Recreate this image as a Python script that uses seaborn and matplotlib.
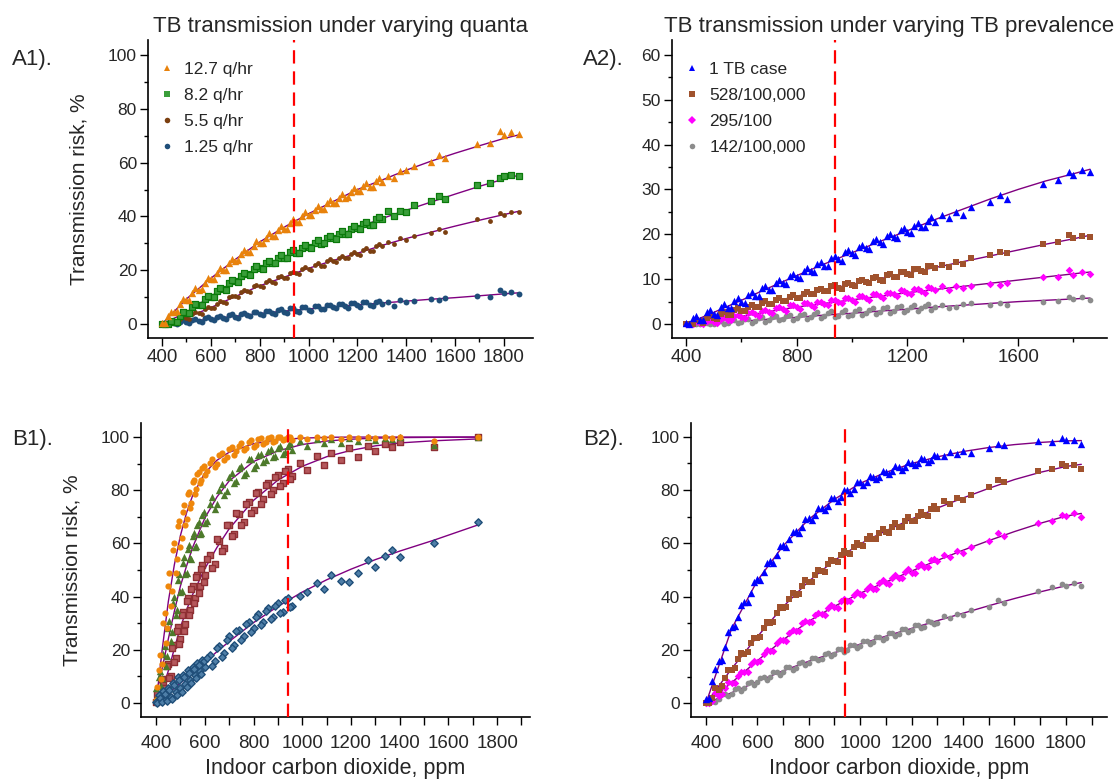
import matplotlib
matplotlib.use("Agg")
import matplotlib.pyplot as plt
import seaborn as sns
from matplotlib import font_manager
from matplotlib.ticker import MultipleLocator, FixedLocator
from matplotlib.lines import Line2D

# ==========================================
# Estilo
# ==========================================
sns.set_theme(style="ticks")
plt.rcParams["font.family"] = ["Liberation Sans", "DejaVu Sans"]

names = {f.name for f in font_manager.fontManager.ttflist}
if "Liberation Sans Narrow" in names:
    narrow, xtick_size, xlabel_size = "Liberation Sans Narrow", 15.5, 18.5
else:
    narrow, xtick_size, xlabel_size = "Liberation Sans", 13.5, 15.5

# ==========================================
# Datos
# ==========================================
# eje x compartido por A1, A2 y B2 (ppm)
co2_a = [400, 425, 450, 475, 500, 525, 550, 575, 600, 625,
         650, 675, 700, 725, 750, 775, 800, 825, 850, 875,
         900, 925, 950, 975, 1000, 1025, 1050, 1075, 1100, 1125,
         1150, 1175, 1200, 1225, 1250, 1275, 1300, 1325, 1350, 1375,
         1400, 1430, 1500, 1535, 1560, 1690, 1745, 1785, 1800, 1830,
         1860]
# puntos intermedios de la zona densa
co2_a_fill = [412, 437, 462, 487, 512, 537, 562, 587, 612, 637,
              662, 687, 712, 737, 762, 787, 812, 837, 862, 887,
              912, 937, 962, 987, 1012, 1037, 1062, 1087, 1112, 1137,
              1162, 1187, 1212, 1237, 1262, 1287]

# A1: cuantos variables
a1_q127 = [0.4, 2.9, 4.3, 7.4, 8.9, 11.6, 12.8, 15.4, 16.6, 19.1,
           20.1, 22.6, 23.5, 25.9, 26.8, 29.1, 30.0, 32.1, 32.9, 35.0,
           35.5, 37.6, 38.1, 40.2, 40.6, 42.3, 42.8, 44.9, 45.0, 47.0,
           46.9, 49.2, 49.4, 51.3, 50.9, 53.0, 52.8, 54.9, 54.2, 56.8,
           57.1, 58.9, 60.2, 62.8, 61.9, 66.9, 67.2, 71.6, 70.2, 71.4,
           70.6]
a1_q127_fill = [0.2, 4.4, 4.8, 9.2, 9.1, 13.3, 13.0, 17.2, 16.7, 20.8,
                20.2, 24.3, 23.7, 27.6, 26.9, 30.9, 30.1, 33.7, 32.8, 36.5,
                35.5, 39.0, 38.0, 41.5, 40.4, 43.9, 42.7, 46.1, 44.9, 48.4,
                47.2, 50.6, 49.3, 52.5, 51.1, 54.2]
a1_q82 = [0.0, 0.1, 0.9, 2.8, 4.2, 6.3, 7.2, 9.4, 10.1, 12.2,
          13.1, 15.4, 16.0, 17.9, 18.6, 20.6, 21.0, 22.6, 22.8, 24.6,
          24.7, 26.6, 26.5, 28.4, 28.6, 30.1, 29.9, 31.9, 32.0, 33.6,
          33.5, 35.4, 35.6, 37.1, 37.0, 39.0, 38.9, 41.9, 40.1, 42.0,
          41.6, 44.3, 45.6, 47.7, 46.5, 51.6, 52.6, 54.3, 55.1, 55.4,
          55.0]
a1_q82_fill = [0.0, 1.1, 0.8, 4.6, 4.1, 7.5, 7.1, 10.5, 10.0, 13.4,
               12.8, 16.3, 15.6, 18.9, 18.1, 21.4, 20.5, 23.5, 22.5, 25.5,
               24.5, 27.4, 26.4, 29.3, 28.2, 31.1, 30.0, 32.8, 31.7, 34.6,
               33.5, 36.3, 35.2, 38.1, 36.9, 39.8]
a1_q55 = [0.0, 0.0, 0.4, 1.8, 2.3, 3.6, 4.0, 5.6, 6.0, 7.6,
          8.1, 9.9, 10.3, 11.8, 12.1, 14.0, 14.2, 15.5, 15.7, 17.3,
          17.2, 18.9, 18.8, 20.6, 20.5, 21.8, 21.7, 23.4, 23.4, 24.6,
          24.4, 26.2, 26.1, 27.5, 27.2, 29.0, 29.1, 30.6, 29.8, 31.9,
          31.2, 32.8, 34.0, 35.2, 34.3, 38.9, 38.2, 41.2, 40.4, 41.6,
          41.7]
a1_q55_fill = [0.0, 0.9, 0.3, 2.8, 2.0, 4.5, 3.9, 6.4, 5.8, 8.4,
               7.8, 10.5, 9.9, 12.5, 11.9, 14.5, 13.8, 16.2, 15.4, 17.8,
               17.0, 19.4, 18.6, 21.1, 20.2, 22.6, 21.7, 24.0, 23.1, 25.4,
               24.5, 26.8, 25.8, 28.2, 27.3, 29.6]
a1_q125 = [0.0, 0.0, 0.3, 0.9, 0.6, 1.4, 1.1, 2.2, 1.7, 2.6,
           2.2, 3.2, 2.7, 3.8, 3.2, 4.4, 3.6, 4.9, 4.1, 5.3,
           4.6, 5.9, 5.0, 6.3, 5.3, 6.8, 5.7, 7.1, 6.2, 7.4,
           6.6, 7.8, 6.9, 8.0, 7.2, 8.3, 7.4, 8.1, 6.8, 8.9,
           8.3, 8.6, 9.2, 8.9, 9.8, 10.3, 9.9, 12.8, 11.6, 11.9,
           11.0]
a1_q125_fill = [0.0, 0.9, 0.1, 1.4, 0.4, 1.9, 0.9, 2.6, 1.4, 3.1,
                1.9, 3.6, 2.3, 4.1, 2.8, 4.6, 3.3, 5.0, 3.8, 5.5,
                4.2, 5.9, 4.6, 6.3, 5.0, 6.7, 5.4, 7.1, 5.8, 7.5,
                6.1, 7.8, 6.5, 8.2, 6.8, 8.5]

# A2: prevalencia variable
a2_case = [0.2, 1.4, 1.0, 2.6, 2.3, 3.7, 3.6, 5.2, 5.0, 6.4,
           6.3, 8.0, 7.7, 9.2, 9.1, 10.7, 10.5, 11.9, 11.8, 13.4,
           13.0, 14.8, 14.5, 16.1, 15.8, 17.2, 17.0, 18.5, 18.2, 19.6,
           19.3, 20.9, 20.5, 21.8, 21.6, 23.0, 22.7, 24.4, 23.6, 24.9,
           24.3, 26.1, 27.2, 28.7, 27.8, 31.3, 32.1, 33.9, 33.2, 34.3,
           34.0]
a2_case_fill = [0.0, 1.8, 0.8, 3.1, 2.1, 4.4, 3.5, 5.7, 4.8, 7.1,
                6.2, 8.5, 7.6, 9.9, 9.0, 11.2, 10.3, 12.6, 11.6, 13.9,
                12.9, 15.1, 14.1, 16.4, 15.4, 17.6, 16.7, 18.9, 17.9, 20.1,
                19.1, 21.3, 20.3, 22.5, 21.6, 23.8]
a2_p528 = [0.0, 0.1, 0.6, 1.4, 1.3, 2.2, 2.1, 3.1, 3.0, 3.8,
           3.7, 4.6, 4.4, 5.3, 5.1, 6.1, 5.8, 6.8, 6.6, 7.6,
           7.3, 8.4, 8.0, 9.0, 8.6, 9.6, 9.3, 10.3, 9.9, 10.9,
           10.5, 11.6, 11.2, 12.2, 11.8, 12.9, 12.4, 13.1, 12.8, 13.9,
           13.4, 14.7, 15.3, 16.1, 15.8, 17.9, 18.4, 19.9, 19.2, 19.7,
           19.5]
a2_p528_fill = [0.0, 0.8, 0.3, 1.7, 1.1, 2.6, 2.0, 3.5, 2.9, 4.3,
                3.7, 5.1, 4.5, 5.8, 5.2, 6.5, 5.9, 7.2, 6.6, 7.9,
                7.3, 8.6, 7.9, 9.2, 8.5, 9.8, 9.1, 10.4, 9.7, 11.1,
                10.4, 11.7, 11.0, 12.3, 11.6, 12.9]
a2_p295 = [0.0, 0.0, 0.2, 0.7, 0.5, 1.2, 1.0, 1.8, 1.6, 2.4,
           2.2, 3.0, 2.8, 3.6, 3.3, 4.2, 3.8, 4.6, 4.2, 5.0,
           4.5, 5.4, 4.9, 5.8, 5.3, 6.2, 5.8, 6.7, 6.2, 7.0,
           6.6, 7.5, 7.0, 7.8, 7.3, 8.2, 7.6, 8.4, 7.7, 8.5,
           8.0, 8.4, 9.0, 8.6, 9.1, 10.4, 10.4, 12.0, 11.0, 11.6,
           11.2]
a2_p295_fill = [0.0, 0.6, 0.0, 1.0, 0.3, 1.5, 0.8, 2.1, 1.3, 2.6,
                1.9, 3.2, 2.4, 3.7, 2.9, 4.2, 3.4, 4.6, 3.8, 5.0,
                4.2, 5.4, 4.6, 5.8, 5.0, 6.2, 5.4, 6.6, 5.8, 7.0,
                6.2, 7.4, 6.6, 7.8, 6.9, 8.1]
a2_p142 = [0.0, 0.0, 0.0, 0.3, 0.1, 0.6, 0.3, 0.9, 0.5, 1.2,
           0.7, 1.5, 0.9, 1.8, 1.2, 2.0, 1.3, 2.3, 1.5, 2.6,
           1.7, 2.9, 1.9, 3.1, 2.1, 3.3, 2.5, 3.6, 2.7, 3.8,
           3.0, 4.0, 3.2, 4.3, 3.5, 4.5, 3.7, 4.3, 3.6, 3.9,
           4.5, 4.7, 4.3, 4.6, 4.3, 5.0, 5.2, 6.1, 5.5, 6.1,
           5.4]
a2_p142_fill = [0.0, 0.0, 0.5, 0.0, 0.7, 0.0, 1.0, 0.2, 1.2, 0.3,
                1.4, 0.5, 1.6, 0.8, 1.9, 1.0, 2.1, 1.2, 2.3, 1.4,
                2.5, 1.6, 2.8, 1.8, 3.0, 2.0, 3.2, 2.3, 3.5, 2.5,
                3.7, 2.7, 3.9, 2.9, 4.1, 3.1]

# B2: prevalencia variable (escenario B)
b2_case = [1.5, 8.5, 15.8, 21.0, 28.6, 32.4, 38.0, 41.3, 46.5, 49.2,
           53.4, 55.6, 59.5, 61.8, 64.8, 66.3, 69.4, 70.6, 73.2, 74.1,
           76.8, 77.2, 80.0, 80.3, 82.8, 83.1, 85.0, 85.0, 86.9, 87.1,
           88.6, 88.7, 90.2, 90.1, 91.5, 91.3, 92.8, 92.6, 94.2, 93.4,
           94.6, 94.0, 95.6, 97.4, 96.8, 98.4, 97.9, 99.4, 98.6, 98.9,
           97.4]
b2_case_fill = [2.0, 12.8, 16.4, 26.8, 29.0, 36.7, 38.0, 45.6, 46.3, 52.6,
                52.8, 58.9, 58.8, 64.1, 63.9, 69.0, 68.6, 73.1, 72.4, 76.9,
                76.0, 80.0, 79.0, 82.9, 81.8, 85.2, 84.0, 87.2, 86.0, 88.9,
                87.6, 90.5, 89.3, 91.8, 90.5, 93.0]
b2_p528 = [0.3, 2.1, 5.0, 9.6, 12.4, 16.8, 18.7, 22.6, 24.5, 28.3,
           30.0, 33.9, 35.8, 39.0, 40.6, 43.9, 45.4, 48.3, 49.6, 52.4,
           53.3, 55.8, 56.2, 58.8, 59.4, 61.5, 61.8, 64.0, 64.2, 66.2,
           66.3, 68.5, 68.5, 70.4, 70.5, 72.8, 72.9, 75.9, 74.6, 76.8,
           76.1, 78.2, 81.0, 83.8, 83.0, 87.0, 87.8, 89.6, 88.9, 89.5,
           88.0]
b2_p528_fill = [0.0, 5.8, 6.6, 12.6, 13.1, 18.8, 19.2, 24.7, 25.0, 30.4,
                30.6, 36.0, 36.1, 41.2, 41.1, 46.2, 45.5, 50.0, 49.3, 53.9,
                53.0, 57.1, 56.1, 60.2, 59.1, 62.9, 61.5, 65.4, 63.9, 67.6,
                66.1, 69.8, 68.3, 71.9, 70.3, 74.0]
b2_p295 = [0.0, 1.0, 2.8, 5.6, 7.5, 10.4, 11.6, 14.6, 15.7, 18.7,
           19.8, 22.8, 23.6, 26.4, 27.2, 30.1, 30.6, 33.1, 33.4, 35.8,
           36.0, 38.4, 38.3, 40.7, 41.0, 42.9, 42.8, 45.2, 45.0, 47.0,
           46.9, 49.3, 49.0, 51.4, 51.2, 53.8, 53.4, 55.8, 55.0, 57.0,
           56.4, 58.8, 61.0, 63.8, 62.8, 67.6, 68.3, 70.8, 70.2, 71.4,
           70.0]
b2_p295_fill = [0.0, 4.0, 3.7, 7.9, 7.7, 11.9, 11.8, 16.0, 15.8, 20.0,
                19.7, 23.9, 23.5, 27.5, 27.0, 31.0, 30.4, 34.0, 33.2, 36.8,
                35.9, 39.3, 38.3, 41.8, 40.7, 44.0, 42.8, 46.1, 44.9, 48.1,
                46.9, 50.2, 49.0, 52.2, 51.0, 54.2]
b2_p142 = [0.0, 0.8, 1.6, 3.5, 3.6, 5.8, 5.7, 8.0, 7.9, 9.9,
           9.8, 11.9, 11.8, 13.8, 13.4, 15.5, 15.2, 17.0, 16.7, 18.8,
           18.4, 20.4, 19.9, 21.9, 21.6, 23.4, 23.0, 24.8, 24.6, 26.3,
           25.9, 27.8, 27.4, 29.2, 28.6, 30.6, 30.1, 32.6, 32.0, 33.5,
           33.1, 34.9, 36.1, 38.8, 37.8, 42.0, 43.7, 44.9, 44.1, 45.2,
           44.0]
b2_p142_fill = [0.0, 0.6, 3.4, 2.6, 5.4, 4.7, 7.5, 6.8, 9.6, 8.8,
                11.6, 10.8, 13.5, 12.6, 15.3, 14.4, 17.1, 16.1, 18.7, 17.7,
                20.3, 19.3, 21.9, 20.9, 23.5, 22.4, 25.0, 23.9, 26.4, 25.4,
                27.9, 26.8, 29.3, 28.3, 30.8, 29.7]

# B1: eje x propio
co2_b1 = [400, 410, 420, 430, 440, 450, 460, 470, 480, 490,
          500, 510, 520, 530, 540, 550, 560, 570, 580, 590,
          600, 620, 640, 660, 680, 700, 720, 740, 760, 780,
          800, 820, 840, 860, 880, 900, 920, 940, 960, 990,
          1020, 1060, 1090, 1120, 1160, 1190, 1230, 1270, 1300, 1340,
          1370, 1400, 1540, 1720]
co2_b1_fill = [405, 415, 425, 435, 445, 455, 465, 475, 485, 495,
               505, 515, 525, 535, 545, 555, 565, 575, 585, 595,
               610, 630, 650, 670, 690, 710, 730, 750, 770, 790,
               810, 830, 850, 870, 890, 910, 930, 950]
b1_orange = [1.0, 12.5, 9.0, 30.0, 22.4, 44.0, 36.5, 57.5, 49.0, 66.5,
             58.8, 72.0, 67.0, 78.4, 73.5, 83.0, 78.5, 86.2, 82.9, 88.5,
             85.6, 90.3, 88.7, 93.2, 91.4, 95.6, 93.4, 96.8, 95.2, 98.0,
             96.4, 99.2, 97.5, 99.5, 98.2, 100.0, 98.8, 99.9, 98.9, 100.0,
             99.4, 100.0, 99.6, 100.0, 99.2, 100.0, 99.6, 100.0, 99.5, 100.0,
             99.8, 100.0, 98.5, 100.0]
b1_orange_fill = [6.0, 18.0, 14.5, 34.0, 28.0, 49.0, 42.0, 60.0, 54.0, 68.5,
                  62.0, 74.5, 69.0, 79.5, 75.2, 84.0, 80.4, 86.8, 84.0, 89.2,
                  87.4, 91.6, 89.8, 94.0, 92.5, 96.4, 94.6, 97.8, 96.0, 98.9,
                  97.0, 99.6, 98.0, 100.0, 98.6, 100.0, 99.1, 100.0]
b1_green = [5.5, 9.8, 6.2, 18.5, 14.0, 28.0, 23.4, 37.6, 33.0, 46.2,
            41.8, 52.5, 48.6, 58.0, 54.6, 62.8, 58.6, 67.0, 63.4, 70.8,
            67.5, 74.8, 73.0, 80.2, 78.3, 85.0, 82.6, 88.5, 85.9, 91.6,
            88.4, 93.2, 90.8, 94.8, 92.6, 96.0, 93.8, 96.5, 95.0, 98.4,
            96.7, 99.1, 97.6, 99.4, 97.9, 99.8, 98.6, 100.0, 98.9, 99.7,
            99.2, 100.0, 97.2, 100.0]
b1_green_fill = [2.5, 12.0, 9.5, 21.5, 17.5, 31.0, 26.5, 40.0, 35.0, 48.5,
                 42.0, 54.8, 49.0, 59.5, 54.0, 64.0, 59.0, 68.2, 63.8, 72.0,
                 68.6, 77.4, 74.8, 82.2, 79.8, 86.4, 83.6, 89.0, 86.6, 91.9,
                 89.4, 93.6, 91.2, 95.4, 93.0, 96.6, 94.4, 97.6]
b1_red = [0.5, 2.8, 1.2, 7.8, 4.5, 14.6, 10.2, 21.8, 16.9, 28.6,
          24.0, 34.2, 29.5, 39.5, 34.8, 44.0, 39.6, 48.2, 43.8, 51.8,
          48.0, 55.6, 52.4, 61.0, 58.2, 66.8, 63.4, 71.0, 67.9, 75.6,
          72.4, 79.4, 76.6, 82.6, 80.2, 85.8, 82.8, 88.0, 85.4, 90.4,
          87.6, 92.8, 89.6, 94.0, 91.2, 95.8, 92.5, 96.8, 94.6, 97.5,
          96.4, 98.0, 96.2, 100.0]
b1_red_fill = [3.5, 1.0, 9.0, 5.5, 14.0, 9.5, 20.5, 15.5, 27.0, 22.0,
               33.0, 27.0, 38.5, 33.0, 43.0, 37.5, 47.5, 41.5, 50.5, 45.5,
               54.0, 50.6, 61.5, 57.0, 67.0, 62.8, 71.6, 67.0, 75.0, 71.4,
               78.8, 75.0, 82.0, 78.6, 85.0, 81.6, 87.4, 84.2]
b1_blue = [0.5, 3.0, 0.8, 4.6, 1.5, 5.8, 2.4, 7.6, 4.0, 9.8,
           5.6, 10.6, 7.2, 12.4, 8.8, 13.6, 10.4, 15.0, 12.0, 16.2,
           13.4, 18.0, 15.6, 21.4, 18.8, 25.0, 21.8, 27.6, 25.0, 30.6,
           28.0, 33.4, 30.6, 35.6, 32.4, 37.4, 34.2, 39.6, 36.4, 40.4,
           41.6, 45.2, 43.0, 48.2, 46.0, 45.6, 48.8, 53.8, 51.0, 55.4,
           57.6, 55.0, 60.0, 68.0]
b1_blue_fill = [0.0, 1.8, 0.4, 3.5, 0.9, 5.0, 1.6, 6.6, 2.8, 8.6,
                4.2, 9.8, 6.0, 11.4, 7.6, 12.8, 9.2, 14.2, 11.0, 15.6,
                17.0, 14.0, 20.8, 17.4, 23.8, 20.6, 27.0, 23.6, 29.6, 26.6,
                32.2, 29.4, 34.6, 31.6, 36.6, 34.0, 38.6, 36.2]

# curvas de ajuste
fit_x = [400, 500, 600, 700, 800, 900, 1000, 1100, 1200, 1300, 1400, 1500, 1600, 1700, 1800, 1860]
fit_a1 = [
    [0, 9.3, 17, 24, 30.5, 36, 41, 45.5, 50, 53.5, 57.2, 60.5, 63.5, 66.3, 69, 70.3],
    [0, 4.3, 10.3, 16, 21, 25, 28.8, 32.3, 35.8, 39.2, 42.3, 45.3, 48.3, 51.2, 53.9, 55.3],
    [0, 2.3, 6.1, 10.2, 14.2, 17.4, 20.7, 23.6, 26.3, 29.2, 31.8, 34.1, 36.4, 38.6, 40.7, 41.9],
    [0, 0.8, 1.9, 2.9, 3.9, 4.8, 5.6, 6.4, 7.1, 7.8, 8.5, 9.2, 9.8, 10.5, 11.2, 11.6],
]
fit_a2 = [
    [0, 2.6, 5.3, 8.1, 10.8, 13.4, 15.9, 18.4, 20.8, 23.3, 25.6, 27.9, 30.0, 31.9, 33.5, 34.5],
    [0, 1.4, 3.2, 4.8, 6.2, 7.6, 8.9, 10.1, 11.4, 12.6, 13.9, 15.2, 16.5, 17.8, 19.0, 19.8],
    [0, 0.6, 1.7, 2.8, 3.8, 4.6, 5.4, 6.2, 7.0, 7.7, 8.4, 9.1, 9.8, 10.5, 11.2, 11.6],
    [0, 0.2, 0.6, 1.1, 1.5, 2.0, 2.4, 2.9, 3.3, 3.8, 4.2, 4.6, 5.0, 5.3, 5.6, 5.8],
]
fit_b2 = [
    [0, 28, 46, 59, 69, 76.5, 82.5, 86.6, 89.9, 92.4, 94.4, 95.9, 97.0, 97.8, 98.4, 98.5],
    [0, 13, 25, 36.2, 45.8, 53.6, 59.8, 64.7, 69.1, 73.2, 77.0, 80.6, 83.9, 86.6, 88.8, 89.6],
    [0, 7.8, 16, 23.8, 30.8, 36.4, 41.3, 45.5, 49.6, 53.6, 57.4, 61.0, 64.4, 67.5, 70.2, 71.2],
    [0, 4, 8.2, 12.2, 15.8, 19.0, 22.2, 25.2, 28.1, 31.0, 33.8, 36.6, 39.3, 41.8, 44.1, 45.3],
]
fit_x_b1 = [400, 425, 450, 475, 500, 525, 550, 600, 650, 700, 800, 900, 1000, 1100, 1200, 1300, 1400, 1540, 1720]
fit_b1 = [
    [0, 20, 38, 52, 63, 71.5, 78, 86.5, 91.3, 94.3, 97.5, 99, 99.6, 99.9, 100, 100, 100, 100, 100],
    [3, 13, 24, 34.5, 44, 51.5, 58.5, 69.5, 77.5, 83.5, 90.8, 94.8, 97.2, 98.5, 99.2, 99.6, 99.8, 99.9, 100],
    [0, 5, 12, 20.5, 28.5, 35, 40.8, 50.5, 58.5, 65.5, 76.2, 83.8, 89, 92.6, 95, 96.7, 97.8, 98.6, 99.3],
    [0, 1.8, 3.6, 5.5, 7.5, 9.4, 11.4, 15.3, 19.3, 23.1, 30.2, 36.3, 41.7, 46.3, 50.3, 53.9, 57.1, 61.2, 66.9],
]

quanta_labels = ["12.7 q/hr", "8.2 q/hr", "5.5 q/hr", "1.25 q/hr"]
prev_labels = ["1 TB case", "528/100,000", "295/100", "142/100,000"]
co2_limit = 940  # línea roja discontinua

# estilos de marcadores
sty_a1 = [dict(marker="^", color="#e8820c", s=28, linewidth=0),
          dict(marker="s", color="#3a9e3a", s=18, edgecolor="#0b7a0b", linewidth=0.9),
          dict(marker="o", color="#7b3f10", s=12, linewidth=0),
          dict(marker="o", color="#1f4e79", s=18, linewidth=0)]
sty_prev = [dict(marker="^", color="#0000ff", s=28, linewidth=0),
            dict(marker="s", color="#a0522d", s=20, linewidth=0),
            dict(marker="D", color="#ff00ff", s=15, linewidth=0),
            dict(marker="o", color="#8c8c8c", s=17, linewidth=0)]
sty_b1 = [dict(marker="o", color="#ef870b", s=20, linewidth=0),
          dict(marker="^", color="#4d7a2b", s=28, linewidth=0),
          dict(marker="s", color="#b5585c", s=18, edgecolor="#8e2f33", linewidth=1.0),
          dict(marker="D", color="#4f7fa8", s=14, edgecolor="#1f4e79", linewidth=1.0)]


def draw_panel(ax, xs, ys, fx, fys, labels, styles):
    for fy in fys:
        sns.lineplot(x=fx, y=fy, ax=ax, color="#800080", linewidth=1.0,
                     zorder=1, legend=False, estimator=None, sort=False)
    for (x, y), lab, st in zip(zip(xs, ys), labels, styles):
        sns.scatterplot(x=x, y=y, ax=ax, label=lab, zorder=2, **st)
    ax.axvline(co2_limit, color="red", linewidth=1.6, linestyle=(0, (6, 3.5)), zorder=3)


def style_axes(ax, xlim, ylim, xmaj, xmin, ymaj, ymin, xpad, b_style=False):
    ax.set_xlim(*xlim)
    ax.set_ylim(*ylim)
    sns.despine(ax=ax)
    for sp in ["left", "bottom"]:
        ax.spines[sp].set_linewidth(1.2)
        ax.spines[sp].set_color("black")
    ax.xaxis.set_major_locator(FixedLocator(xmaj))
    ax.xaxis.set_minor_locator(FixedLocator(xmin))
    ax.yaxis.set_major_locator(MultipleLocator(ymaj))
    ax.yaxis.set_minor_locator(MultipleLocator(ymin))
    ax.tick_params(which="both", direction="out", width=1, color="black")
    ax.tick_params(which="major", length=6)
    ax.tick_params(axis="y", which="minor", length=3)
    ax.tick_params(axis="x", which="minor", length=6 if b_style else 3)
    ax.tick_params(axis="y", labelsize=12.5, pad=2)
    ax.tick_params(axis="x", labelsize=xtick_size, labelfontfamily=narrow, pad=xpad)
    ax.set_xlabel("")
    ax.set_ylabel("")
    ax.grid(False)


fig = plt.figure(figsize=(11.19, 7.82), dpi=100)
ax_a1 = fig.add_axes([0.1323, 0.5678, 0.344, 0.381])
ax_a2 = fig.add_axes([0.6005, 0.5678, 0.3887, 0.381])
ax_b1 = fig.add_axes([0.1260, 0.0831, 0.3476, 0.376])
ax_b2 = fig.add_axes([0.6175, 0.0831, 0.3718, 0.376])

xa = co2_a + co2_a_fill
xb = co2_b1 + co2_b1_fill

draw_panel(ax_a1, [xa] * 4,
           [a1_q125 + a1_q125_fill, a1_q55 + a1_q55_fill, a1_q82 + a1_q82_fill, a1_q127 + a1_q127_fill],
           fit_x, fit_a1, quanta_labels[::-1], sty_a1[::-1])
draw_panel(ax_a2, [xa] * 4,
           [a2_p142 + a2_p142_fill, a2_p295 + a2_p295_fill, a2_p528 + a2_p528_fill, a2_case + a2_case_fill],
           fit_x, fit_a2, prev_labels[::-1], sty_prev[::-1])
draw_panel(ax_b1, [xb] * 4,
           [b1_red + b1_red_fill, b1_green + b1_green_fill, b1_orange + b1_orange_fill, b1_blue + b1_blue_fill],
           fit_x_b1, [fit_b1[2], fit_b1[1], fit_b1[0], fit_b1[3]], [None] * 4,
           [sty_b1[2], sty_b1[1], sty_b1[0], sty_b1[3]])
draw_panel(ax_b2, [xa] * 4,
           [b2_p142 + b2_p142_fill, b2_p295 + b2_p295_fill, b2_p528 + b2_p528_fill, b2_case + b2_case_fill],
           fit_x, fit_b2, [None] * 4, sty_prev[::-1])

xa1 = list(range(400, 1801, 200))
style_axes(ax_a1, (343, 1919), (-5.2, 105.6), xa1, list(range(500, 1801, 200)), 20, 10, 2)
style_axes(ax_a2, (349, 1921), (-3.1, 63.3), [400, 800, 1200, 1600], [600, 1000, 1400, 1800], 10, 5, 2)
style_axes(ax_b1, (338, 1935), (-5.3, 105.3), xa1, list(range(500, 1901, 200)), 20, 10, 7, b_style=True)
style_axes(ax_b2, (342, 1960), (-5.1, 105.1), xa1, list(range(500, 1901, 200)), 20, 10, 7, b_style=True)

# leyendas
for ax, labels, styles in [(ax_a1, quanta_labels, sty_a1), (ax_a2, prev_labels, sty_prev)]:
    handles = [Line2D([], [], linestyle="", marker=st["marker"], color=st["color"],
                      markersize=4, markeredgewidth=0) for st in styles]
    ax.legend(handles, labels, loc="upper left", bbox_to_anchor=(0.03, 0.927),
              frameon=False, fontsize=12.5, handlelength=0.8, handletextpad=0.6,
              labelspacing=0.62, borderaxespad=0, borderpad=0)
for ax in [ax_b1, ax_b2]:
    leg = ax.get_legend()
    if leg is not None:
        leg.remove()

# títulos y etiquetas
ax_a1.set_title("TB transmission under varying quanta", fontsize=16, pad=6)
ax_a2.set_title("TB transmission under varying TB prevalence", fontsize=16, pad=6)
for ax in [ax_a1, ax_b1]:
    ax.set_ylabel("Transmission risk, %", fontsize=15, labelpad=14)
for ax in [ax_b1, ax_b2]:
    ax.set_xlabel("Indoor carbon dioxide, ppm", fontsize=xlabel_size,
                  fontfamily=narrow, labelpad=4)

fig.text(0.011, 0.917, "A1).", fontsize=16, va="baseline")
fig.text(0.521, 0.917, "A2).", fontsize=16, va="baseline")
fig.text(0.011, 0.431, "B1).", fontsize=16, va="baseline")
fig.text(0.521, 0.431, "B2).", fontsize=16, va="baseline")

fig.patch.set_facecolor("white")
for ax in [ax_a1, ax_a2, ax_b1, ax_b2]:
    ax.set_facecolor("white")

plt.savefig("out.png", dpi=100)
